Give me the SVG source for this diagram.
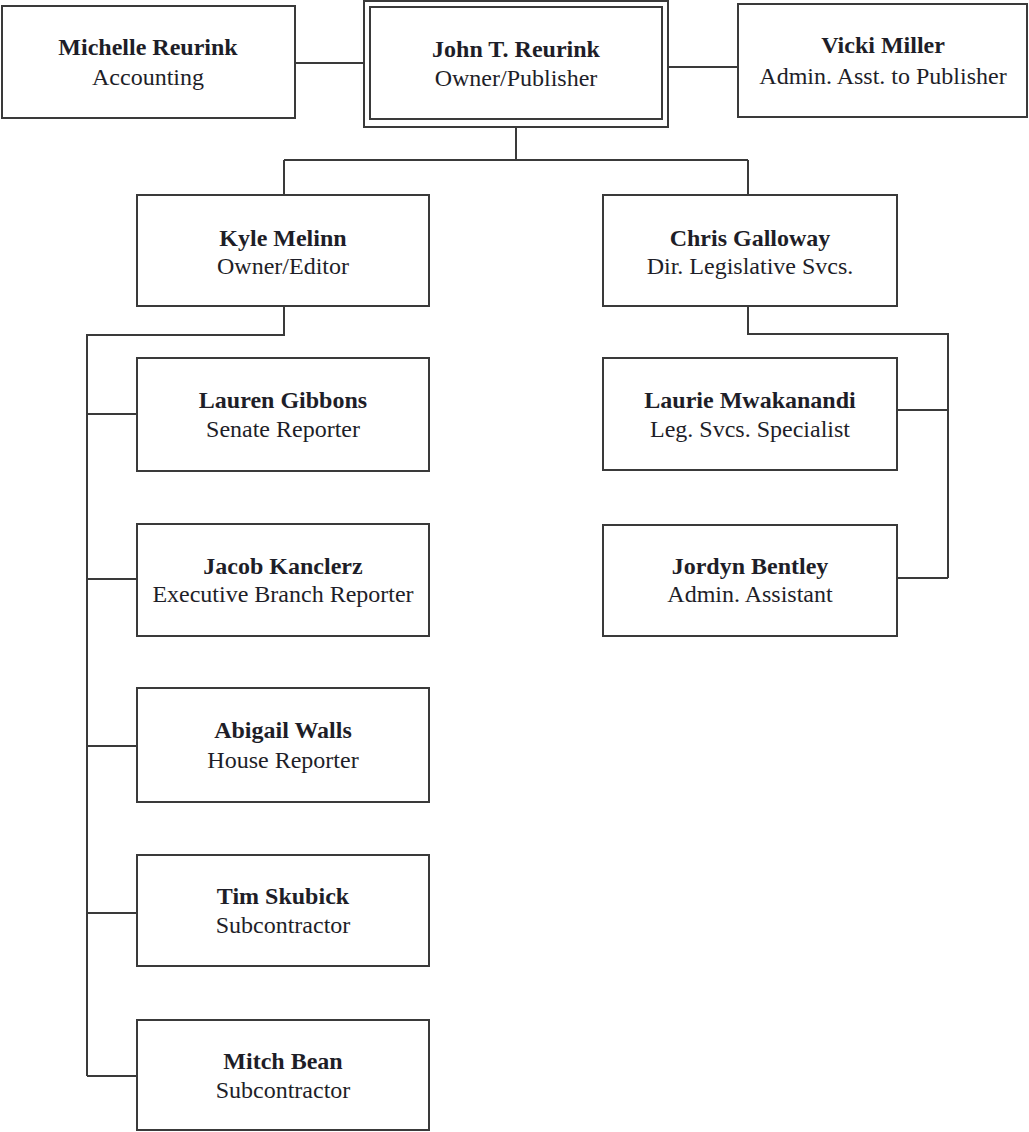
<svg xmlns="http://www.w3.org/2000/svg" width="1029" height="1132" viewBox="0 0 1029 1132">
<style>
.box{fill:#fff;stroke:#3a3a3a;stroke-width:2}
.ln{fill:none;stroke:#3a3a3a;stroke-width:2}
.n{font-family:"Liberation Serif","Times New Roman",serif;font-weight:bold;font-size:24px;fill:#1e1e28;text-anchor:middle}
.t{font-family:"Liberation Serif","Times New Roman",serif;font-size:24px;fill:#1e1e28;text-anchor:middle}
</style>
<rect width="1029" height="1132" fill="#fff"/>
<g id="connectors" class="ln">
<path d="M295 63H364"/>
<path d="M668 67H738"/>
<path d="M516 127V160M284 160H748M284 160V195M748 160V195"/>
<path d="M284 306V335H87V1076"/>
<path d="M87 414H137M87 579H137M87 746H137M87 913H137M87 1076H137"/>
<path d="M748 306V334H948V578"/>
<path d="M897 410H948M897 578H948"/>
</g>
<g id="michelle"><rect class="box" x="2" y="6" width="293" height="112"/><text class="n" x="148" y="55">Michelle Reurink</text><text class="t" x="148" y="85">Accounting</text></g>
<g id="john"><rect class="box" x="364" y="1" width="304" height="126"/><rect class="box" x="370" y="7" width="292" height="112"/><text class="n" x="516" y="57">John T. Reurink</text><text class="t" x="516" y="86">Owner/Publisher</text></g>
<g id="vicki"><rect class="box" x="738" y="4" width="289" height="113"/><text class="n" x="883" y="53">Vicki Miller</text><text class="t" x="883" y="84">Admin. Asst. to Publisher</text></g>
<g id="kyle"><rect class="box" x="137" y="195" width="292" height="111"/><text class="n" x="283" y="246">Kyle Melinn</text><text class="t" x="283" y="274">Owner/Editor</text></g>
<g id="chris"><rect class="box" x="603" y="195" width="294" height="111"/><text class="n" x="750" y="246">Chris Galloway</text><text class="t" x="750" y="274">Dir. Legislative Svcs.</text></g>
<g id="lauren"><rect class="box" x="137" y="358" width="292" height="113"/><text class="n" x="283" y="408">Lauren Gibbons</text><text class="t" x="283" y="437">Senate Reporter</text></g>
<g id="laurie"><rect class="box" x="603" y="358" width="294" height="112"/><text class="n" x="750" y="408">Laurie Mwakanandi</text><text class="t" x="750" y="437">Leg. Svcs. Specialist</text></g>
<g id="jacob"><rect class="box" x="137" y="524" width="292" height="112"/><text class="n" x="283" y="574">Jacob Kanclerz</text><text class="t" x="283" y="602">Executive Branch Reporter</text></g>
<g id="jordyn"><rect class="box" x="603" y="525" width="294" height="111"/><text class="n" x="750" y="574">Jordyn Bentley</text><text class="t" x="750" y="602">Admin. Assistant</text></g>
<g id="abigail"><rect class="box" x="137" y="688" width="292" height="114"/><text class="n" x="283" y="738">Abigail Walls</text><text class="t" x="283" y="768">House Reporter</text></g>
<g id="tim"><rect class="box" x="137" y="855" width="292" height="111"/><text class="n" x="283" y="904">Tim Skubick</text><text class="t" x="283" y="933">Subcontractor</text></g>
<g id="mitch"><rect class="box" x="137" y="1020" width="292" height="110"/><text class="n" x="283" y="1069">Mitch Bean</text><text class="t" x="283" y="1098">Subcontractor</text></g>
</svg>
